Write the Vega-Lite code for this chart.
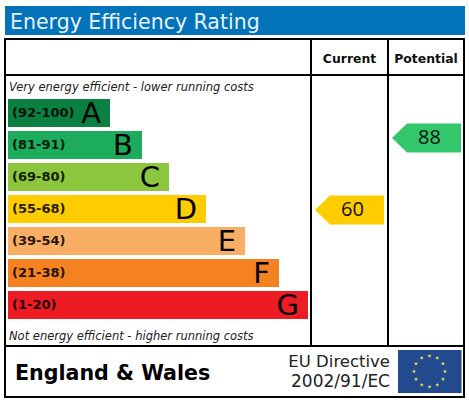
{
  "$schema": "https://vega.github.io/schema/vega-lite/v6.json",
  "width": 469,
  "height": 403,
  "padding": 0,
  "autosize": "none",
  "background": "white",
  "config": {
    "view": {"stroke": null},
    "axis": {"disable": true},
    "legend": {"disable": true},
    "text": {"font": "DejaVu Sans"}
  },
  "resolve": {"scale": {"x": "independent", "y": "independent", "color": "independent"}},
  "layer": [
    {
      "data": {"values": [
        {"band": "A", "range": "(92-100)", "length": 110},
        {"band": "B", "range": "(81-91)", "length": 142},
        {"band": "C", "range": "(69-80)", "length": 169},
        {"band": "D", "range": "(55-68)", "length": 206},
        {"band": "E", "range": "(39-54)", "length": 245},
        {"band": "F", "range": "(21-38)", "length": 279},
        {"band": "G", "range": "(1-20)", "length": 308}
      ]},
      "encoding": {
        "y": {"field": "band", "type": "nominal", "scale": {"type": "band", "domain": ["A", "B", "C", "D", "E", "F", "G"], "range": [99, 319], "paddingInner": 0.125, "paddingOuter": 0}}
      },
      "layer": [
        {
          "mark": {"type": "bar"},
          "encoding": {
            "x": {"field": "length", "type": "quantitative", "scale": {"domain": [0, 469], "range": [0, 469], "nice": false}},
            "x2": {"datum": 8},
            "color": {"field": "band", "type": "nominal", "scale": {"domain": ["A", "B", "C", "D", "E", "F", "G"], "range": ["#0b8043", "#1dab5c", "#8cc63f", "#ffcc00", "#f9ae66", "#f58220", "#ed1c24"]}}
          }
        },
        {
          "mark": {"type": "text", "align": "left", "baseline": "middle", "fontSize": 13, "fontWeight": "bold", "fill": "black", "opacity": 0.85},
          "encoding": {"x": {"datum": 12, "type": "quantitative"}, "text": {"field": "range"}}
        },
        {
          "mark": {"type": "text", "align": "right", "baseline": "middle", "fontSize": 29, "fill": "black", "dx": -9, "dy": 1},
          "encoding": {"x": {"field": "length", "type": "quantitative"}, "text": {"field": "band"}}
        }
      ]
    },
    {
      "data": {"values": [
        {"column": "Current", "score": 60},
        {"column": "Potential", "score": 88}
      ]},
      "encoding": {
        "x": {"field": "column", "type": "nominal", "scale": {"type": "point", "padding": 0, "domain": ["Current", "Potential"], "range": [349.5, 426.5]}},
        "y": {"field": "score", "type": "quantitative", "scale": {"domain": [141.67, -15.06], "range": [0, 403], "nice": false}}
      },
      "layer": [
        {
          "mark": {"type": "point", "shape": "M-1 0L-0.565 -0.42L1 -0.42L1 0.42L-0.565 0.42Z", "filled": true, "opacity": 1, "size": 4761},
          "encoding": {
            "color": {"field": "column", "type": "nominal", "scale": {"domain": ["Current", "Potential"], "range": ["#ffcc00", "#33c76b"]}}
          }
        },
        {
          "mark": {"type": "text", "font": "Open Sans", "fontSize": 20, "baseline": "middle", "align": "center", "fill": "#111", "dx": 3},
          "encoding": {"text": {"field": "score", "type": "quantitative"}}
        }
      ]
    },
    {
      "data": {"values": [{"part": "frame"}]},
      "encoding": {
        "x": {"datum": 0, "type": "quantitative", "scale": {"domain": [0, 469], "range": [0, 469], "nice": false}},
        "y": {"datum": 0, "type": "quantitative", "scale": {"domain": [0, 403], "range": [0, 403], "nice": false}}
      },
      "layer": [
        {"mark": {"type": "rect", "fill": "#0272b9"},
         "encoding": {"x": {"datum": 5, "type": "quantitative"}, "x2": {"datum": 465}, "y": {"datum": 6, "type": "quantitative"}, "y2": {"datum": 35}}},
        {"mark": {"type": "text", "text": "Energy Efficiency Rating", "align": "left", "baseline": "alphabetic", "fontSize": 20.5, "fill": "#e6f3fa"},
         "encoding": {"x": {"datum": 10, "type": "quantitative"}, "y": {"datum": 29, "type": "quantitative"}}},
        {"mark": {"type": "rect", "fill": "transparent", "stroke": "black", "strokeWidth": 2},
         "encoding": {"x": {"datum": 5, "type": "quantitative"}, "x2": {"datum": 464}, "y": {"datum": 39, "type": "quantitative"}, "y2": {"datum": 397}}},
        {"mark": {"type": "rule", "stroke": "black", "strokeWidth": 2},
         "encoding": {"x": {"datum": 5, "type": "quantitative"}, "x2": {"datum": 464}, "y": {"datum": 75, "type": "quantitative"}}},
        {"mark": {"type": "rule", "stroke": "black", "strokeWidth": 2},
         "encoding": {"x": {"datum": 5, "type": "quantitative"}, "x2": {"datum": 464}, "y": {"datum": 346, "type": "quantitative"}}},
        {"mark": {"type": "rule", "stroke": "black", "strokeWidth": 2},
         "encoding": {"x": {"datum": 311, "type": "quantitative"}, "y": {"datum": 39, "type": "quantitative"}, "y2": {"datum": 346}}},
        {"mark": {"type": "rule", "stroke": "black", "strokeWidth": 2},
         "encoding": {"x": {"datum": 388, "type": "quantitative"}, "y": {"datum": 39, "type": "quantitative"}, "y2": {"datum": 346}}},
        {"mark": {"type": "text", "text": "Current", "align": "center", "baseline": "alphabetic", "fontSize": 12.4, "fontWeight": "bold", "fill": "#111"},
         "encoding": {"x": {"datum": 349.5, "type": "quantitative"}, "y": {"datum": 63, "type": "quantitative"}}},
        {"mark": {"type": "text", "text": "Potential", "align": "center", "baseline": "alphabetic", "fontSize": 12.4, "fontWeight": "bold", "fill": "#111"},
         "encoding": {"x": {"datum": 426, "type": "quantitative"}, "y": {"datum": 63, "type": "quantitative"}}},
        {"mark": {"type": "text", "text": "Very energy efficient - lower running costs", "align": "left", "baseline": "alphabetic", "fontSize": 11.5, "fontStyle": "italic", "fill": "#222"},
         "encoding": {"x": {"datum": 9, "type": "quantitative"}, "y": {"datum": 91, "type": "quantitative"}}},
        {"mark": {"type": "text", "text": "Not energy efficient - higher running costs", "align": "left", "baseline": "alphabetic", "fontSize": 11.5, "fontStyle": "italic", "fill": "#222"},
         "encoding": {"x": {"datum": 9, "type": "quantitative"}, "y": {"datum": 340, "type": "quantitative"}}},
        {"mark": {"type": "text", "text": "England & Wales", "align": "left", "baseline": "alphabetic", "fontSize": 20.6, "fontWeight": "bold", "fill": "black"},
         "encoding": {"x": {"datum": 15, "type": "quantitative"}, "y": {"datum": 380, "type": "quantitative"}}},
        {"mark": {"type": "text", "text": "EU Directive", "align": "right", "baseline": "alphabetic", "fontSize": 16.5, "fill": "#222"},
         "encoding": {"x": {"datum": 390, "type": "quantitative"}, "y": {"datum": 367, "type": "quantitative"}}},
        {"mark": {"type": "text", "text": "2002/91/EC", "align": "right", "baseline": "alphabetic", "fontSize": 17, "fill": "#222"},
         "encoding": {"x": {"datum": 390, "type": "quantitative"}, "y": {"datum": 387, "type": "quantitative"}}},
        {"mark": {"type": "rect", "fill": "#234a8e"},
         "encoding": {"x": {"datum": 398, "type": "quantitative"}, "x2": {"datum": 461.5}, "y": {"datum": 350, "type": "quantitative"}, "y2": {"datum": 393}}}
      ]
    },
    {
      "data": {"values": [
        {"star": 1, "east": 0.5, "north": 0.87},
        {"star": 2, "east": 0.87, "north": 0.5},
        {"star": 3, "east": 1, "north": 0},
        {"star": 4, "east": 0.87, "north": -0.5},
        {"star": 5, "east": 0.5, "north": -0.87},
        {"star": 6, "east": 0, "north": -1},
        {"star": 7, "east": -0.5, "north": -0.87},
        {"star": 8, "east": -0.87, "north": -0.5},
        {"star": 9, "east": -1, "north": 0},
        {"star": 10, "east": -0.87, "north": 0.5},
        {"star": 11, "east": -0.5, "north": 0.87},
        {"star": 12, "east": 0, "north": 1}
      ]},
      "mark": {"type": "point", "shape": "M0 -1L0.22 -0.31L0.95 -0.31L0.36 0.12L0.59 0.81L0 0.38L-0.59 0.81L-0.36 0.12L-0.95 -0.31L-0.22 -0.31Z", "filled": true, "fill": "#f2e34c", "opacity": 1, "size": 20},
      "encoding": {
        "x": {"field": "east", "type": "quantitative", "scale": {"domain": [-1, 1], "range": [414, 445], "nice": false}},
        "y": {"field": "north", "type": "quantitative", "scale": {"domain": [-1, 1], "range": [387, 356], "nice": false}}
      }
    }
  ]
}
